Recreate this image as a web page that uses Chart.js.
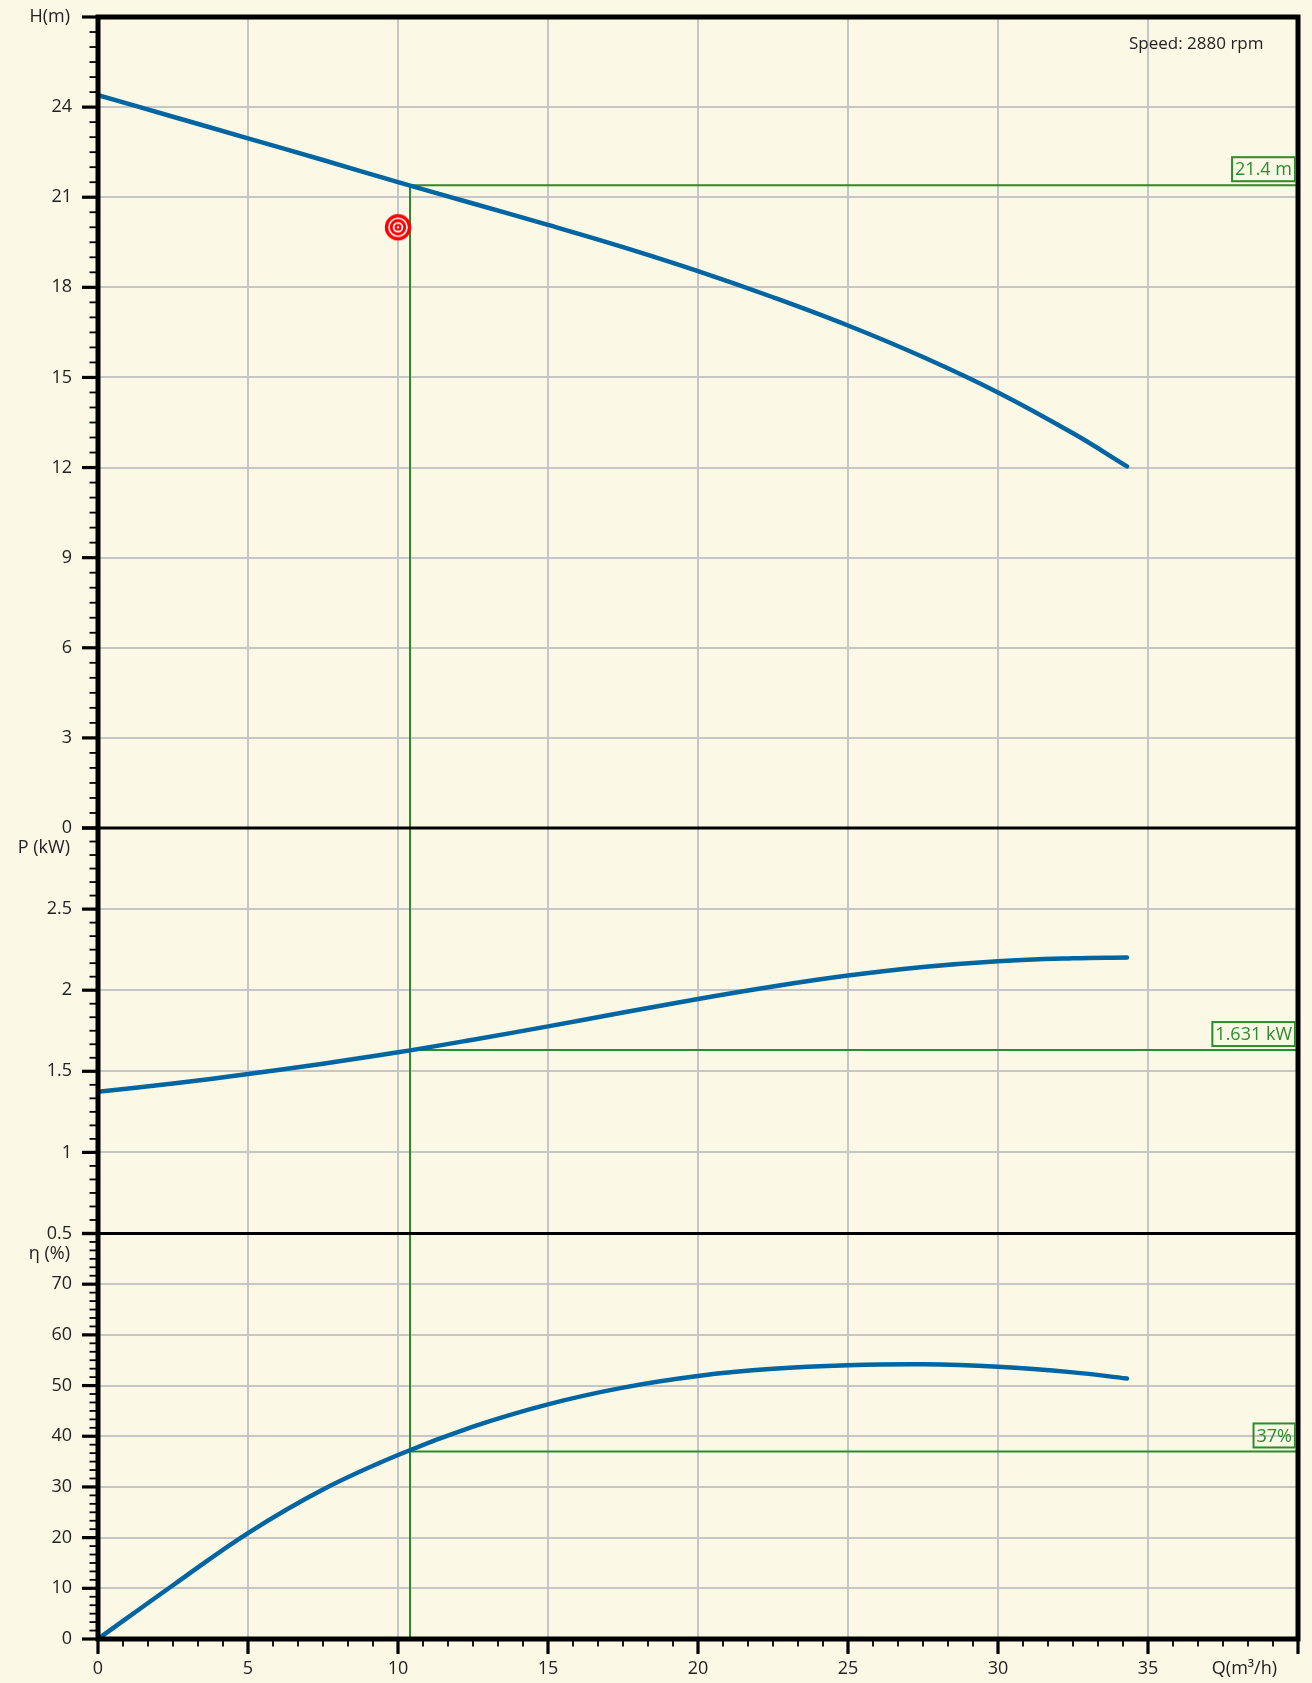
<!DOCTYPE html>
<html><head><meta charset="utf-8">
<script src="https://cdn.jsdelivr.net/npm/chart.js@4.4.1/dist/chart.umd.min.js"></script>
<style>html,body{margin:0;padding:0;background:#fbf8e6;}canvas{display:block;}</style>
</head><body>
<canvas id="c" width="1312" height="1683" style="width:1312px;height:1683px"></canvas>
<script>
// ---- data ----
const Q   = [0, 2.5, 5, 7.5, 10, 12.5, 15, 17.5, 20, 22.5, 25, 27.5, 30, 32.5, 34.3];
const H   = [24.4, 23.68, 22.96, 22.24, 21.5, 20.79, 20.08, 19.34, 18.54, 17.67, 16.73, 15.68, 14.5, 13.14, 12.04];
const P   = [1.374, 1.425, 1.483, 1.547, 1.617, 1.695, 1.777, 1.862, 1.946, 2.023, 2.09, 2.143, 2.179, 2.197, 2.202];
const ETA = [0, 10.6, 20.9, 29.5, 36.3, 41.9, 46.3, 49.6, 51.9, 53.3, 54.0, 54.2, 53.7, 52.6, 51.4];

const X_TICKS   = [0, 5, 10, 15, 20, 25, 30, 35];
const H_TICKS   = [0, 3, 6, 9, 12, 15, 18, 21, 24];
const P_TICKS   = [0.5, 1, 1.5, 2, 2.5];
const ETA_TICKS = [0, 10, 20, 30, 40, 50, 60, 70];

const OP_Q = 10.4, OP_H = 21.4, OP_P = 1.631, OP_ETA = 37;
const OP_LABELS = ['21.4 m', '1.631 kW', '37%'];
const DUTY_Q = 10, DUTY_H = 20;
const SPEED_TEXT = 'Speed: 2880 rpm';

// ---- styles ----
const BG = '#fbf8e6', BLUE = '#0065a0', GREEN = '#2b8c2b', GRID = '#c6c6c6', INK = '#222';
const FONT = '"Open Sans", "Noto Sans", sans-serif';

function pts(ys) { return Q.map((q, i) => ({x: q, y: ys[i]})); }

function makeTarget() {
  const c = document.createElement('canvas');
  c.width = c.height = 30;
  const g = c.getContext('2d');
  [[13.2, '#ff0000'], [9.8, '#ffffff'], [8.2, '#ff0000'], [5.3, '#ffffff'], [3.5, '#ff0000'], [1.3, '#dddddd']]
    .forEach(([r, col]) => { g.beginPath(); g.arc(15, 15, r, 0, Math.PI * 2); g.fillStyle = col; g.fill(); });
  return c;
}

const curve = (data, axis) => ({
  data, yAxisID: axis, borderColor: BLUE, borderWidth: 4.5, pointRadius: 0,
  tension: 0.4, borderCapStyle: 'round', fill: false
});
const guide = (data, axis) => ({
  data, yAxisID: axis, borderColor: GREEN, borderWidth: 2, pointRadius: 0, tension: 0, fill: false
});

const decor = {
  id: 'decor',
  beforeDraw(chart) {
    const ctx = chart.ctx;
    ctx.save(); ctx.fillStyle = BG; ctx.fillRect(0, 0, chart.width, chart.height); ctx.restore();
  },
  afterDraw(chart) {
    const {ctx, chartArea: a, scales} = chart;
    const sx = scales.x, yH = scales.yH, yP = scales.yP, yE = scales.yE;
    ctx.save();
    ctx.strokeStyle = '#000';
    // panel separators
    ctx.lineWidth = 3;
    [yH.getPixelForValue(0), yP.getPixelForValue(0.5)].forEach(y => {
      ctx.beginPath(); ctx.moveTo(a.left, y); ctx.lineTo(a.right, y); ctx.stroke();
    });
    // y ticks
    function yTicks(scale, min, max, step) {
      const n = Math.round((max - min) / step * 6);
      for (let i = 0; i <= n; i++) {
        const y = scale.getPixelForValue(min + i * step / 6);
        const major = i % 6 === 0;
        ctx.lineWidth = major ? 3.2 : 1.8;
        ctx.beginPath(); ctx.moveTo(a.left - (major ? 16 : 8.5), y); ctx.lineTo(a.left, y); ctx.stroke();
      }
    }
    yTicks(yH, 0, 27, 3);
    yTicks(yP, 0.5, 3, 0.5);
    yTicks(yE, 0, 80, 10);
    // x ticks
    for (let i = 0; i <= 48; i++) {
      const x = sx.getPixelForValue(i * 5 / 6);
      const major = i % 6 === 0;
      ctx.lineWidth = major ? 3.2 : 1.8;
      ctx.beginPath(); ctx.moveTo(x, a.bottom); ctx.lineTo(x, a.bottom + (major ? 15 : 7.5)); ctx.stroke();
    }
    // outer border
    ctx.lineWidth = 5;
    ctx.strokeRect(a.left, a.top, a.right - a.left, a.bottom - a.top);

    // tick labels
    ctx.fillStyle = INK;
    ctx.font = '18px ' + FONT;
    ctx.textAlign = 'right'; ctx.textBaseline = 'middle';
    const lx = a.left - 26;
    H_TICKS.forEach(v => ctx.fillText(String(v), lx, yH.getPixelForValue(v)));
    P_TICKS.forEach(v => ctx.fillText(String(v), lx, yP.getPixelForValue(v)));
    ETA_TICKS.forEach(v => ctx.fillText(String(v), lx, yE.getPixelForValue(v)));
    ctx.fillText('H(m)', lx - 2, yH.getPixelForValue(27));
    ctx.fillText('P (kW)', lx - 2, yP.getPixelForValue(3) + 20);
    ctx.fillText('η (%)', lx - 2, yE.getPixelForValue(80) + 20);
    ctx.textAlign = 'center';
    X_TICKS.forEach(v => ctx.fillText(String(v), sx.getPixelForValue(v), a.bottom + 30));
    ctx.textAlign = 'right';
    ctx.fillText('Q(m³/h)', a.right - 21, a.bottom + 30);

    // speed text
    ctx.font = '17px ' + FONT;
    ctx.textAlign = 'left';
    ctx.fillText(SPEED_TEXT, 1129, a.top + 27);

    // operating point labels
    ctx.font = '18px ' + FONT;
    ctx.fillStyle = GREEN; ctx.strokeStyle = GREEN; ctx.lineWidth = 2;
    [[yH, OP_H], [yP, OP_P], [yE, OP_ETA]].forEach(([s, v], i) => {
      const y = s.getPixelForValue(v);
      const t = OP_LABELS[i];
      const w = ctx.measureText(t).width + 6;
      const r = a.right - 3, b = y - 4, h = 24;
      ctx.strokeRect(r - w, b - h, w, h);
      ctx.textAlign = 'right'; ctx.textBaseline = 'middle';
      ctx.fillText(t, r - 3, b - h / 2 + 1);
    });
    ctx.restore();
  }
};

new Chart(document.getElementById('c'), {
  type: 'line',
  data: {
    datasets: [
      {data: [{x: DUTY_Q, y: DUTY_H}], yAxisID: 'yH', showLine: false, pointStyle: makeTarget(), pointRadius: 13, pointHoverRadius: 13},
      curve(pts(H), 'yH'),
      curve(pts(P), 'yP'),
      curve(pts(ETA), 'yE'),
      guide([{x: 40, y: OP_H}, {x: OP_Q, y: OP_H}, {x: OP_Q, y: 0}], 'yH'),
      guide([{x: OP_Q, y: 3}, {x: OP_Q, y: 0.5}, {x: OP_Q, y: OP_P}, {x: 40, y: OP_P}], 'yP'),
      guide([{x: OP_Q, y: 80}, {x: OP_Q, y: 0}, {x: OP_Q, y: OP_ETA}, {x: 40, y: OP_ETA}], 'yE')
    ]
  },
  options: {
    responsive: false, animation: false, devicePixelRatio: 1,
    layout: {padding: {top: 17, right: 10, left: 0, bottom: 0}},
    plugins: {legend: {display: false}, tooltip: {enabled: false}},
    events: [],
    scales: {
      x: {
        type: 'linear', position: 'bottom', min: 0, max: 40,
        ticks: {stepSize: 5, display: false},
        grid: {color: GRID, lineWidth: 2, drawTicks: false},
        border: {display: false},
        afterFit(s) { s.height = 44; }
      },
      yH: {
        type: 'linear', position: 'left', stack: 'v', stackWeight: 2, weight: 3, min: 0, max: 27,
        ticks: {stepSize: 3, display: false},
        grid: {color: GRID, lineWidth: 2, drawTicks: false},
        border: {display: false},
        afterFit(s) { s.width = 98; }
      },
      yP: {
        type: 'linear', position: 'left', stack: 'v', stackWeight: 1, weight: 2, min: 0.5, max: 3,
        ticks: {stepSize: 0.5, display: false},
        grid: {color: GRID, lineWidth: 2, drawTicks: false},
        border: {display: false},
        afterFit(s) { s.width = 98; }
      },
      yE: {
        type: 'linear', position: 'left', stack: 'v', stackWeight: 1, weight: 1, min: 0, max: 80,
        ticks: {stepSize: 10, display: false},
        grid: {color: GRID, lineWidth: 2, drawTicks: false},
        border: {display: false},
        afterFit(s) { s.width = 98; }
      }
    }
  },
  plugins: [decor]
});
</script>
</body></html>
